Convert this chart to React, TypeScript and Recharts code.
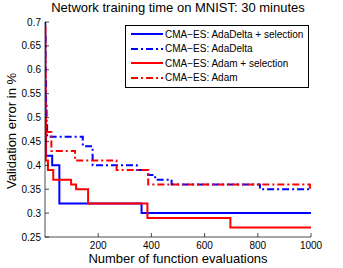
import React from 'react';
import { LineChart, Line, XAxis, YAxis, Legend } from 'recharts';

// Evaluations / validation error for each series
const adaDeltaSelEvals = [0, 1, 2, 4, 27, 54, 363, 1000];
const adaDeltaSelErr = [0.7, 0.55, 0.47, 0.42, 0.4, 0.32, 0.3, 0.3];

const adaDeltaEvals = [0, 2, 4, 6, 8, 142, 179, 345, 388, 414, 476, 808, 1000];
const adaDeltaErr = [0.67, 0.58, 0.53, 0.49, 0.46, 0.44, 0.4, 0.39, 0.38, 0.37, 0.36, 0.35, 0.35];

const adamSelEvals = [0, 1, 3, 11, 31, 98, 117, 162, 385, 697, 1000];
const adamSelErr = [0.69, 0.5, 0.41, 0.39, 0.37, 0.36, 0.35, 0.32, 0.29, 0.27, 0.27];

const adamEvals = [0, 1, 2, 3, 24, 113, 269, 388, 996, 1000];
const adamErr = [0.69, 0.6, 0.52, 0.47, 0.43, 0.41, 0.39, 0.36, 0.35, 0.35];

const xTicks = [200, 400, 600, 800, 1000];
const yTicks = [0.25, 0.3, 0.35, 0.4, 0.45, 0.5, 0.55, 0.6, 0.65, 0.7];

const seriesNames = [
  'CMA\u2212ES: AdaDelta + selection',
  'CMA\u2212ES: AdaDelta',
  'CMA\u2212ES: Adam + selection',
  'CMA\u2212ES: Adam',
];

const toData = (xs: number[], ys: number[]) => xs.map((x, i) => ({ x, y: ys[i] }));

const FONT = '"Liberation Sans", Arial, sans-serif';
const DASH = '7 3 2 3';

const series = [
  { name: seriesNames[0], data: toData(adaDeltaSelEvals, adaDeltaSelErr), color: '#0000ff', dash: undefined },
  { name: seriesNames[1], data: toData(adaDeltaEvals, adaDeltaErr), color: '#0000ff', dash: DASH },
  { name: seriesNames[2], data: toData(adamSelEvals, adamSelErr), color: '#ff0000', dash: undefined },
  { name: seriesNames[3], data: toData(adamEvals, adamErr), color: '#ff0000', dash: DASH },
];

const BottomTick = (p: any) => (
  <g>
    <line x1={p.x} x2={p.x} y1={p.y} y2={p.y - 4} stroke="#000" strokeWidth={0.7} />
    <text x={p.x} y={p.y + 12} textAnchor="middle" fontSize={10} fontFamily={FONT} fill="#000">
      {String(p.payload.value)}
    </text>
  </g>
);
const TopTick = (p: any) => (
  <line x1={p.x} x2={p.x} y1={p.y} y2={p.y + 4} stroke="#000" strokeWidth={0.7} />
);
const LeftTick = (p: any) => (
  <g>
    <line x1={p.x} x2={p.x + 4} y1={p.y} y2={p.y} stroke="#000" strokeWidth={0.7} />
    <text x={p.x - 4} y={p.y} dy="0.35em" textAnchor="end" fontSize={10} fontFamily={FONT} fill="#000">
      {String(p.payload.value)}
    </text>
  </g>
);
const RightTick = (p: any) => (
  <line x1={p.x} x2={p.x - 4} y1={p.y} y2={p.y} stroke="#000" strokeWidth={0.7} />
);

const LegendBox = () => (
  <div
    style={{
      border: '1px solid #000',
      background: '#fff',
      padding: '1px 3px 2px 5px',
      fontFamily: FONT,
      fontSize: 10,
      boxSizing: 'border-box',
    }}
  >
    {series.map((s) => (
      <div key={s.name} style={{ display: 'flex', alignItems: 'center', height: 14.5, whiteSpace: 'nowrap' }}>
        <svg width={32} height={6} style={{ marginRight: 2 }}>
          <line x1={0} x2={32} y1={3} y2={3} stroke={s.color} strokeWidth={2} strokeDasharray={s.dash} />
        </svg>
        <span>{s.name}</span>
      </div>
    ))}
  </div>
);

export default function App() {
  return (
    <div style={{ position: 'absolute', left: 0, top: 0, width: 343, height: 268, background: '#fff', fontFamily: FONT }}>
      <div style={{ position: 'absolute', left: 25, width: 306, top: 1, textAlign: 'center', fontSize: 13, lineHeight: '14px', whiteSpace: 'nowrap' }}>
        Network training time on MNIST: 30 minutes
      </div>
      <div style={{ position: 'absolute', left: 45, width: 266, top: 252, textAlign: 'center', fontSize: 13, lineHeight: '13px', whiteSpace: 'nowrap' }}>
        Number of function evaluations
      </div>
      <div
        style={{
          position: 'absolute',
          left: 12,
          top: 131,
          width: 200,
          textAlign: 'center',
          fontSize: 13,
          lineHeight: '14px',
          whiteSpace: 'nowrap',
          transform: 'translate(-50%, -50%) rotate(-90deg)',
        }}
      >
        Validation error in %
      </div>
      <div style={{ position: 'absolute', left: 0, top: 0 }}>
        <LineChart width={343} height={268} margin={{ top: 22, right: 32, bottom: 0, left: 0 }}>
          <XAxis
            dataKey="x"
            type="number"
            domain={[0, 1000]}
            ticks={xTicks}
            interval={0}
            height={31}
            tickSize={0}
            tickMargin={0}
            tick={BottomTick}
            axisLine={{ stroke: '#000', strokeWidth: 0.7 }}
            allowDataOverflow
          />
          <XAxis
            xAxisId="top"
            orientation="top"
            dataKey="x"
            type="number"
            domain={[0, 1000]}
            ticks={xTicks}
            interval={0}
            height={0}
            tickSize={0}
            tickMargin={0}
            tick={TopTick}
            axisLine={{ stroke: '#000', strokeWidth: 0.7 }}
          />
          <YAxis
            type="number"
            domain={[0.25, 0.7]}
            ticks={yTicks}
            interval={0}
            width={45}
            tickSize={0}
            tickMargin={0}
            tick={LeftTick}
            axisLine={{ stroke: '#000', strokeWidth: 0.7 }}
            allowDataOverflow
          />
          <YAxis
            yAxisId="right"
            orientation="right"
            type="number"
            domain={[0.25, 0.7]}
            ticks={yTicks}
            interval={0}
            width={0}
            tickSize={0}
            tickMargin={0}
            tick={RightTick}
            axisLine={{ stroke: '#000', strokeWidth: 0.7 }}
          />
          {series.map((s) => (
            <Line
              key={s.name}
              name={s.name}
              data={s.data}
              dataKey="y"
              type="stepAfter"
              stroke={s.color}
              strokeWidth={2}
              strokeDasharray={s.dash}
              dot={false}
              activeDot={false}
              isAnimationActive={false}
            />
          ))}
          <Legend
            layout="horizontal"
            verticalAlign="middle"
            align="center"
            content={<LegendBox />}
            wrapperStyle={{ left: 125, top: 25, width: 184, height: 61 }}
          />
        </LineChart>
      </div>
    </div>
  );
}
